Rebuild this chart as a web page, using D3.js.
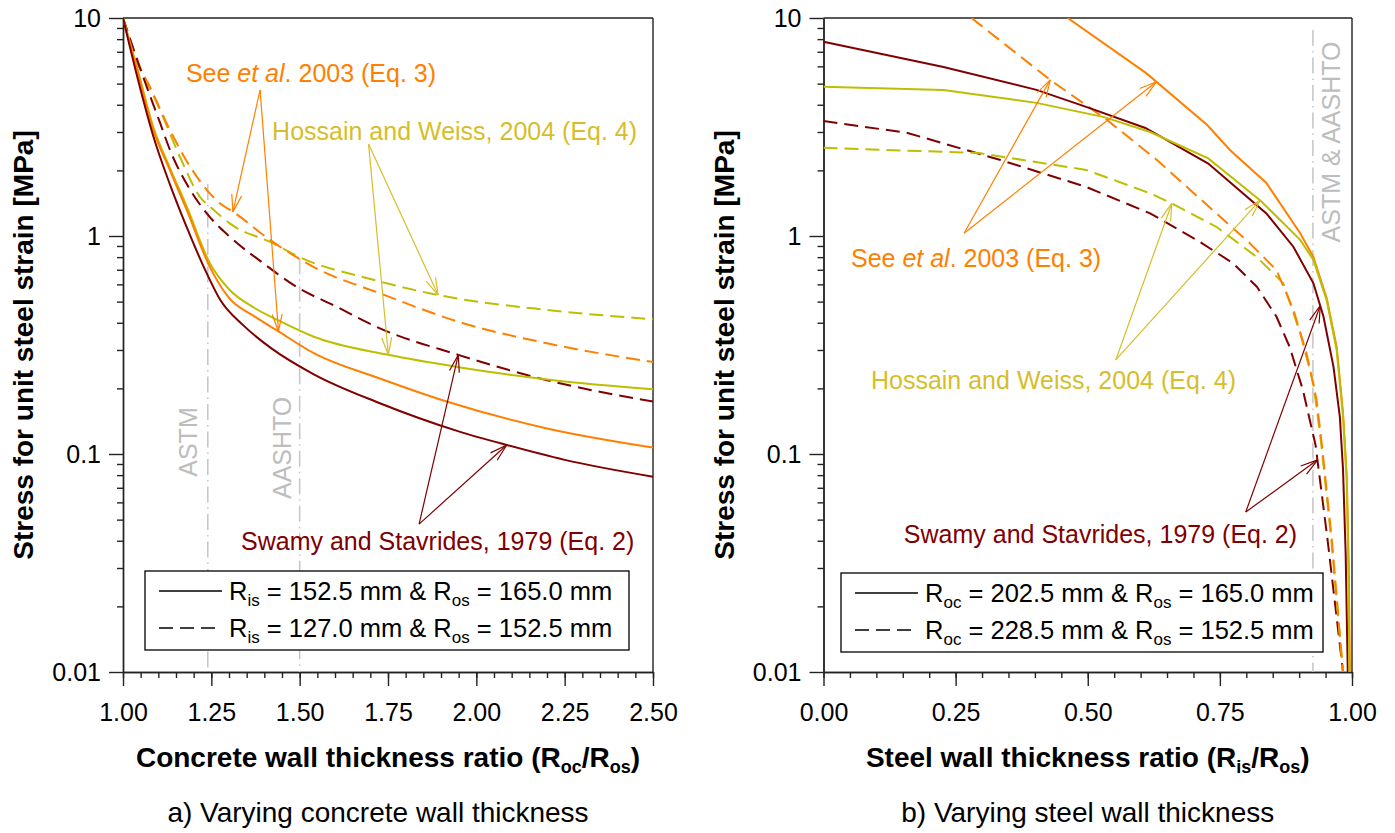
<!DOCTYPE html>
<html>
<head>
<meta charset="utf-8">
<script src="https://cdn.jsdelivr.net/npm/d3@7"></script>
<style>
body { margin: 0; background: #fff; }
svg { display: block; font-family: "Liberation Sans", Arial, sans-serif; }
</style>
</head>
<body>
<svg id="chart" width="1395" height="833"></svg>
<script>
// a) varying concrete wall thickness, x = Roc/Ros, y = stress per unit strain [MPa]
// solid: Ris = 152.5 & Ros = 165.0, dashed: Ris = 127.0 & Ros = 152.5
var a_swamy_1 = [[1.00, 10], [1.04, 5.4], [1.086, 2.86], [1.133, 1.72], [1.18, 1.10], [1.237, 0.674], [1.275, 0.51],
    [1.34, 0.39], [1.42, 0.305], [1.54, 0.232], [1.727, 0.171], [1.95, 0.127], [2.086, 0.110], [2.25, 0.094], [2.50, 0.0787]];
var a_see_1 = [[1.00, 10], [1.04, 5.8], [1.086, 3.06], [1.133, 2.0], [1.18, 1.32], [1.246, 0.72], [1.30, 0.52],
    [1.37, 0.43], [1.44, 0.365], [1.54, 0.29], [1.727, 0.222], [1.916, 0.174], [2.20, 0.131], [2.50, 0.107]];
var a_hossain_1 = [[1.00, 10], [1.04, 5.9], [1.086, 3.15], [1.133, 2.05], [1.18, 1.37], [1.246, 0.75], [1.30, 0.57],
    [1.37, 0.47], [1.44, 0.41], [1.54, 0.345], [1.751, 0.285], [1.95, 0.25], [2.218, 0.218], [2.50, 0.198]];
var a_swamy_2 = [[1.00, 10], [1.048, 5.9], [1.105, 3.3], [1.133, 2.48], [1.19, 1.63], [1.237, 1.27], [1.303, 0.99],
    [1.397, 0.75], [1.491, 0.585], [1.604, 0.474], [1.727, 0.377], [1.949, 0.285], [2.20, 0.218], [2.50, 0.174]];
var a_see_2 = [[1.00, 10], [1.029, 6.9], [1.076, 4.84], [1.133, 3.06], [1.19, 2.08], [1.275, 1.41], [1.312, 1.29],
    [1.416, 0.96], [1.54, 0.72], [1.727, 0.546], [1.963, 0.398], [2.20, 0.322], [2.50, 0.264]];
var a_hossain_2 = [[1.00, 10], [1.048, 5.98], [1.105, 3.78], [1.161, 2.31], [1.218, 1.51], [1.256, 1.32], [1.303, 1.14],
    [1.425, 0.925], [1.50, 0.80], [1.708, 0.63], [1.892, 0.536], [2.20, 0.458], [2.50, 0.415]];

// b) varying steel wall thickness, x = Ris/Ros
// solid: Roc = 202.5 & Ros = 165.0, dashed: Roc = 228.5 & Ros = 152.5
var b_swamy_1 = [[0, 7.78], [0.227, 5.96], [0.403, 4.68], [0.497, 3.91], [0.609, 3.13], [0.728, 2.15], [0.838, 1.27],
    [0.889, 0.893], [0.927, 0.607], [0.946, 0.427], [0.965, 0.251], [0.977, 0.148], [0.983, 0.085], [0.988, 0.035], [0.992, 0.01]];
var b_see_1 = [[0.462, 10], [0.61, 5.6], [0.726, 3.23], [0.769, 2.48], [0.838, 1.75], [0.902, 1.03], [0.927, 0.80],
    [0.952, 0.52], [0.971, 0.31], [0.983, 0.155], [0.990, 0.08], [0.994, 0.03], [0.996, 0.01]];
var b_hossain_1 = [[0, 4.84], [0.227, 4.68], [0.403, 4.08], [0.531, 3.51], [0.618, 3.0], [0.728, 2.27], [0.826, 1.46],
    [0.902, 0.96], [0.927, 0.776], [0.952, 0.508], [0.971, 0.30], [0.983, 0.148], [0.990, 0.076], [0.993, 0.03], [0.995, 0.01]];
var b_swamy_2 = [[0, 3.37], [0.159, 2.97], [0.335, 2.23], [0.497, 1.68], [0.618, 1.27], [0.706, 0.96], [0.775, 0.75],
    [0.82, 0.585], [0.857, 0.427], [0.882, 0.31], [0.907, 0.197], [0.931, 0.11], [0.954, 0.04], [0.983, 0.01]];
var b_see_2 = [[0.28, 10], [0.429, 5.2], [0.537, 3.4], [0.631, 2.23], [0.731, 1.35], [0.807, 0.925], [0.857, 0.698],
    [0.889, 0.46], [0.914, 0.29], [0.933, 0.177], [0.943, 0.11], [0.962, 0.04], [0.983, 0.01]];
var b_hossain_2 = [[0, 2.54], [0.295, 2.40], [0.497, 2.01], [0.618, 1.57], [0.659, 1.41], [0.744, 1.10], [0.82, 0.80],
    [0.87, 0.607], [0.902, 0.358], [0.927, 0.211], [0.942, 0.11], [0.961, 0.04], [0.983, 0.01]];

var y_tick_values = [0.01, 0.1, 1, 10];
var y_tick_labels = ["0.01", "0.1", "1", "10"];
var a_x_ticks = [1.00, 1.25, 1.50, 1.75, 2.00, 2.25, 2.50];
var b_x_ticks = [0.00, 0.25, 0.50, 0.75, 1.00];

var a_legend = [["R", "is", " = 152.5 mm & R", "os", " = 165.0 mm"], ["R", "is", " = 127.0 mm & R", "os", " = 152.5 mm"]];
var b_legend = [["R", "oc", " = 202.5 mm & R", "os", " = 165.0 mm"], ["R", "oc", " = 228.5 mm & R", "os", " = 152.5 mm"]];

var col_swamy = "#800000";
var col_see = "#ff8000";
var col_hossain = "#bebe00";
var col_hossain_text = "#d6be2a";
var col_grey_line = "#c8c8c8";
var col_grey_text = "#bdbdbd";
var font = "'Liberation Sans', Arial, sans-serif";

var svg = d3.select("#chart");
var y_top = 18, y_bottom = 672;

function draw_panel(opts) {
    var g = svg.append("g");
    var x = d3.scaleLinear().domain(opts.xdom).range([opts.x0, opts.x1]);
    var y = d3.scaleLog().domain([0.01, 10]).range([y_bottom, y_top]);

    g.append("clipPath").attr("id", opts.id + "_clip")
        .append("rect")
        .attr("x", opts.x0).attr("y", y_top)
        .attr("width", opts.x1 - opts.x0).attr("height", y_bottom - y_top);

    // minor ticks
    var minor_y = [];
    [0.01, 0.1, 1].forEach(function(d) {
        for (var k = 2; k <= 9; k++) { minor_y.push(d * k); }
    });
    g.append("g").attr("transform", "translate(" + opts.x0 + ",0)")
        .call(d3.axisLeft(y).tickValues(minor_y).tickSize(6).tickSizeOuter(0).tickFormat(""));
    g.append("g").attr("transform", "translate(0," + y_bottom + ")")
        .call(d3.axisBottom(x).tickValues(d3.range(opts.xdom[0], opts.xdom[1] + 0.001, 0.05)).tickSize(6).tickSizeOuter(0).tickFormat(""));

    g.append("g").attr("transform", "translate(" + opts.x0 + ",0)")
        .call(d3.axisLeft(y).tickValues(y_tick_values).tickSize(14).tickSizeOuter(0).tickPadding(8)
            .tickFormat(function(d, i) { return y_tick_labels[i]; }));
    g.append("g").attr("transform", "translate(0," + y_bottom + ")")
        .call(d3.axisBottom(x).tickValues(opts.xticks).tickSize(14).tickSizeOuter(0).tickPadding(17)
            .tickFormat(d3.format(".2f")));

    g.selectAll(".tick line, .domain").attr("stroke", "#222").attr("stroke-width", 1.4);
    g.selectAll(".tick text").attr("font-size", 25).attr("font-family", font).attr("fill", "#000");

    // frame top and right
    g.append("line").attr("x1", opts.x0).attr("x2", opts.x1).attr("y1", y_top).attr("y2", y_top)
        .attr("stroke", "#222").attr("stroke-width", 1.4);
    g.append("line").attr("x1", opts.x1).attr("x2", opts.x1).attr("y1", y_top).attr("y2", y_bottom)
        .attr("stroke", "#222").attr("stroke-width", 1.4);

    // standard lines
    opts.guides.forEach(function(gd) {
        g.append("line")
            .attr("x1", x(gd[0])).attr("x2", x(gd[0]))
            .attr("y1", y(gd[1])).attr("y2", y(0.01))
            .attr("stroke", col_grey_line).attr("stroke-width", 1.6)
            .attr("stroke-dasharray", "16,5,1.5,5");
    });

    var line = d3.line()
        .curve(opts.curve)
        .x(function(d) { return x(d[0]); })
        .y(function(d) { return y(d[1]); });

    var curves = g.append("g").attr("clip-path", "url(#" + opts.id + "_clip)");
    opts.series.forEach(function(s) {
        curves.append("path")
            .datum(s.data)
            .attr("d", line)
            .attr("fill", "none")
            .attr("stroke", s.color)
            .attr("stroke-width", 2)
            .attr("stroke-dasharray", s.dashed ? "14,7" : null);
    });

    // axis titles
    var t = g.append("text")
        .attr("x", (opts.x0 + opts.x1) / 2).attr("y", 767)
        .attr("text-anchor", "middle")
        .attr("font-size", 28).attr("font-weight", "bold").attr("font-family", font);
    t.append("tspan").text(opts.xtitle[0]);
    t.append("tspan").attr("font-size", 18).attr("dy", 6).text(opts.xtitle[1]);
    t.append("tspan").attr("dy", -6).text("/R");
    t.append("tspan").attr("font-size", 18).attr("dy", 6).text("os");
    t.append("tspan").attr("dy", -6).text(")");

    g.append("text")
        .attr("transform", "translate(" + (opts.x0 - 90) + "," + ((y_top + y_bottom) / 2) + ") rotate(-90)")
        .attr("text-anchor", "middle")
        .attr("font-size", 28).attr("font-weight", "bold").attr("font-family", font)
        .text("Stress for unit steel strain [MPa]");

    g.append("text")
        .attr("x", (opts.x0 + opts.x1) / 2 + opts.caption_shift).attr("y", 822)
        .attr("text-anchor", "middle")
        .attr("font-size", 28).attr("font-family", font)
        .text(opts.caption);

    // legend
    var lg = g.append("g").attr("transform", "translate(" + opts.legend[0] + "," + opts.legend[1] + ")");
    lg.append("rect").attr("width", opts.legend[2]).attr("height", 79)
        .attr("fill", "#fff").attr("stroke", "#000").attr("stroke-width", 1.3);
    opts.legend_text.forEach(function(row, i) {
        var yy = 20 + i * 37;
        lg.append("line").attr("x1", 14).attr("x2", 77).attr("y1", yy).attr("y2", yy)
            .attr("stroke", "#000").attr("stroke-width", 1.3)
            .attr("stroke-dasharray", i === 1 ? "14,7" : null);
        var tx = lg.append("text").attr("x", 84).attr("y", yy + 9)
            .attr("font-size", 25.5).attr("font-family", font);
        tx.append("tspan").text(row[0]);
        tx.append("tspan").attr("font-size", 17).attr("dy", 6).text(row[1]);
        tx.append("tspan").attr("dy", -6).text(row[2]);
        tx.append("tspan").attr("font-size", 17).attr("dy", 6).text(row[3]);
        tx.append("tspan").attr("dy", -6).text(row[4]);
    });

    return {g: g, x: x, y: y};
}

function arrow(p, from, to, color) {
    var x1 = p.x(from[0]), y1 = p.y(from[1]);
    var x2 = p.x(to[0]), y2 = p.y(to[1]);
    var ang = Math.atan2(y2 - y1, x2 - x1);
    var len = 18, spread = 0.28;
    p.g.append("line").attr("x1", x1).attr("y1", y1).attr("x2", x2).attr("y2", y2)
        .attr("stroke", color).attr("stroke-width", 1.2);
    [-spread, spread].forEach(function(s) {
        p.g.append("line")
            .attr("x1", x2).attr("y1", y2)
            .attr("x2", x2 - len * Math.cos(ang + s))
            .attr("y2", y2 - len * Math.sin(ang + s))
            .attr("stroke", color).attr("stroke-width", 1.2);
    });
}

function label(p, xv, yv, color, parts, rotate) {
    var t = p.g.append("text")
        .attr("font-size", 25).attr("font-family", font).attr("fill", color);
    if (rotate) {
        t.attr("transform", "translate(" + p.x(xv) + "," + p.y(yv) + ") rotate(-90)")
            .attr("text-anchor", "middle");
    } else {
        t.attr("x", p.x(xv)).attr("y", p.y(yv));
    }
    parts.forEach(function(pt) {
        t.append("tspan").attr("font-style", pt[1] ? "italic" : null).text(pt[0]);
    });
}

var pa = draw_panel({
    id: "pa", xdom: [1.0, 2.5], x0: 123, x1: 653, xticks: a_x_ticks, curve: d3.curveMonotoneX,
    guides: [[1.24, 1.73], [1.50, 0.79]],
    series: [
        {data: a_hossain_2, color: col_hossain, dashed: true},
        {data: a_see_2, color: col_see, dashed: true},
        {data: a_swamy_2, color: col_swamy, dashed: true},
        {data: a_hossain_1, color: col_hossain, dashed: false},
        {data: a_see_1, color: col_see, dashed: false},
        {data: a_swamy_1, color: col_swamy, dashed: false}
    ],
    xtitle: ["Concrete wall thickness ratio (R", "oc"],
    caption: "a) Varying concrete wall thickness", caption_shift: -10,
    legend: [145, 571, 484], legend_text: a_legend
});

var pb = draw_panel({
    id: "pb", xdom: [0, 1], x0: 823.5, x1: 1352, xticks: b_x_ticks, curve: d3.curveLinear,
    guides: [[0.926, 8.8]],
    series: [
        {data: b_swamy_2, color: col_swamy, dashed: true},
        {data: b_hossain_2, color: col_hossain, dashed: true},
        {data: b_see_2, color: col_see, dashed: true},
        {data: b_swamy_1, color: col_swamy, dashed: false},
        {data: b_see_1, color: col_see, dashed: false},
        {data: b_hossain_1, color: col_hossain, dashed: false}
    ],
    xtitle: ["Steel wall thickness ratio (R", "is"],
    caption: "b) Varying steel wall thickness", caption_shift: 0,
    legend: [841, 573, 482], legend_text: b_legend
});

// panel a annotations
label(pa, 1.209, 0.1135, col_grey_text, [["ASTM"]], true);
label(pa, 1.476, 0.1067, col_grey_text, [["AASHTO"]], true);
label(pa, 1.178, 5.08, col_see, [["See "], ["et al", true], [". 2003 (Eq. 3)"]]);
arrow(pa, [1.388, 4.68], [1.311, 1.29], col_see);
arrow(pa, [1.388, 4.68], [1.44, 0.365], col_see);
label(pa, 1.422, 2.76, col_hossain_text, [["Hossain and Weiss, 2004 (Eq. 4)"]]);
arrow(pa, [1.695, 2.64], [1.892, 0.536], col_hossain_text);
arrow(pa, [1.695, 2.64], [1.751, 0.285], col_hossain_text);
label(pa, 1.334, 0.0363, col_swamy, [["Swamy and Stavrides, 1979 (Eq. 2)"]]);
arrow(pa, [1.838, 0.0477], [1.949, 0.285], col_swamy);
arrow(pa, [1.838, 0.0477], [2.086, 0.110], col_swamy);

// panel b annotations
label(pb, 0.978, 2.7, col_grey_text, [["ASTM & AASHTO"]], true);
label(pb, 0.052, 0.721, col_see, [["See "], ["et al", true], [". 2003 (Eq. 3)"]]);
arrow(pb, [0.266, 1.03], [0.429, 5.2], col_see);
arrow(pb, [0.266, 1.03], [0.63, 5.1], col_see);
label(pb, 0.0898, 0.199, col_hossain_text, [["Hossain and Weiss, 2004 (Eq. 4)"]]);
arrow(pb, [0.553, 0.27], [0.659, 1.41], col_hossain_text);
arrow(pb, [0.553, 0.27], [0.826, 1.46], col_hossain_text);
label(pb, 0.152, 0.0391, col_swamy, [["Swamy and Stavrides, 1979 (Eq. 2)"]]);
arrow(pb, [0.799, 0.0542], [0.94, 0.48], col_swamy);
arrow(pb, [0.799, 0.0542], [0.935, 0.094], col_swamy);
</script>
</body>
</html>
